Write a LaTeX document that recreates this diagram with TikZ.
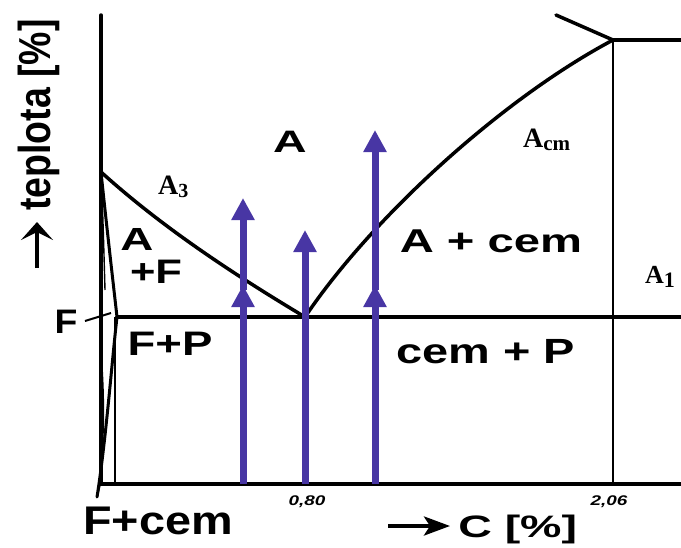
\documentclass[tikz,border=0pt]{standalone}
\usepackage{fontspec}
\setmainfont{Liberation Sans}
\newfontfamily\timesfont{Liberation Serif}
\usetikzlibrary{arrows.meta, positioning}
\definecolor{myblue}{RGB}{72,54,164}
\newcommand{\setfs}[1]{\fontsize{#1}{#1}\selectfont}
\tikzset{
  line/.style={draw, line width=3.5pt, color=black, line cap=round},
  thinline/.style={draw, line width=1.4pt, color=black},
  heat/.style={line width=7pt, color=myblue, -{Triangle[length=22pt, width=22pt]}},
  tarrow/.style={line width=4.5pt, -{Stealth[length=18pt, width=32pt, inset=8pt]}},
  carrow/.style={line width=4pt, -{Stealth[length=26pt, width=19pt, inset=6pt]}},
  phase/.style={inner sep=0pt, anchor=base},
  crit/.style={inner sep=0pt, anchor=base west, font=\timesfont\bfseries\setfs{28}},
  tick/.style={inner sep=0pt, anchor=base, font=\bfseries\itshape\setfs{14}, xscale=1.35}
}

\begin{document}
\begin{tikzpicture}[x=1pt, y=-1pt]
  \useasboundingbox (0,0) rectangle (681,547);

  % ═══════════════════════════════════════════════════════════════
  % KEY POINTS
  % ═══════════════════════════════════════════════════════════════
  \coordinate (O) at (101,484);
  \coordinate (G) at (101,172);
  \coordinate (P) at (117,317);
  \coordinate (E) at (305,317);
  \coordinate (S) at (613,40);

  % ═══════════════════════════════════════════════════════════════
  % AXES AND PHASE LINES
  % ═══════════════════════════════════════════════════════════════
  \draw[line] (101,15) -- (O) -- (681,484);
  \draw[line] (P) -- (681,317);
  \draw[line] (S) -- (681,40);
  \draw[line] (556,15) -- (S);
  \draw[thinline] (S) -- (613,484);
  \draw[thinline] (115,317) -- (115,484);

  % A3 and Acm lines
  \draw[line] (G) .. controls (165,230) and (240,278) .. (E);
  \draw[line] (E) .. controls (370,220) and (500,100) .. (S);

  % ferrite solvus
  \draw[line, line width=3pt] (G) .. controls (107,230) and (114,290) .. (P);
  \draw[thinline] (G) .. controls (103,220) .. (105,290);
  \draw[line, line width=3pt] (P) .. controls (112,360) and (106,440) .. (97,497);
  \fill (101,345) .. controls (106,400) and (105,450) .. (98,497) -- (101,484) -- cycle;
  \draw[line width=2pt] (85,321) -- (111,313);

  % ═══════════════════════════════════════════════════════════════
  % HEATING ARROWS
  % ═══════════════════════════════════════════════════════════════
  \draw[heat] (243,484) -- (243,285);
  \draw[heat] (243,290) -- (243,198);
  \draw[heat] (305,484) -- (305,230);
  \draw[heat] (375,484) -- (375,285);
  \draw[heat] (375,290) -- (375,130);

  % ═══════════════════════════════════════════════════════════════
  % LABELS
  % ═══════════════════════════════════════════════════════════════
  \node[phase, xscale=1.5, font=\bfseries\setfs{31}] (aus) at (290,152) {A};
  \node[phase, xscale=1.43, font=\bfseries\setfs{32}] (af1) at (137,250) {A};
  \node[phase, xscale=1.28, font=\bfseries\setfs{34}] (af2) at (156,283) {+F};
  \node[phase, xscale=1.43, font=\bfseries\setfs{33}] (acem) at (491,252) {A + cem};
  \node[phase, xscale=1.34, font=\bfseries\setfs{35}] (cemp) at (486,363) {cem + P};
  \node[phase, xscale=1.34, font=\bfseries\setfs{34}] (fp) at (170,355) {F+P};
  \node[phase, xscale=1.1, font=\bfseries\setfs{34}] (fer) at (66,333) {F};
  \node[phase, xscale=1.17, font=\bfseries\setfs{40}] (fcem) at (158,534) {F+cem};

  \node[crit] (a3) at (158,194) {A\raisebox{-3pt}{\setfs{20}3}};
  \node[crit] (acm) at (523,147) {A\raisebox{-3pt}{\setfs{21}cm}};
  \node[crit, font=\timesfont\bfseries\setfs{26}] (a1) at (645,283) {A\raisebox{-4pt}{\setfs{22}1}};

  \node[tick] (t80) at (307,505) {0,80};
  \node[tick] (t206) at (609,505) {2,06};

  % axis titles
  \node[inner sep=0pt, rotate=90, xscale=1.17, yscale=1.4, font=\bfseries\setfs{32}] (temp) at (39,115) {teplota [\%]};
  \draw[tarrow] (37,268) -- (37,222);
  \node[phase, anchor=base west, xscale=1.5, font=\bfseries\setfs{31}] (carb) at (458,537) {C [\%]};
  \draw[carrow] (388,526) -- (450,526);
\end{tikzpicture}
\end{document}
